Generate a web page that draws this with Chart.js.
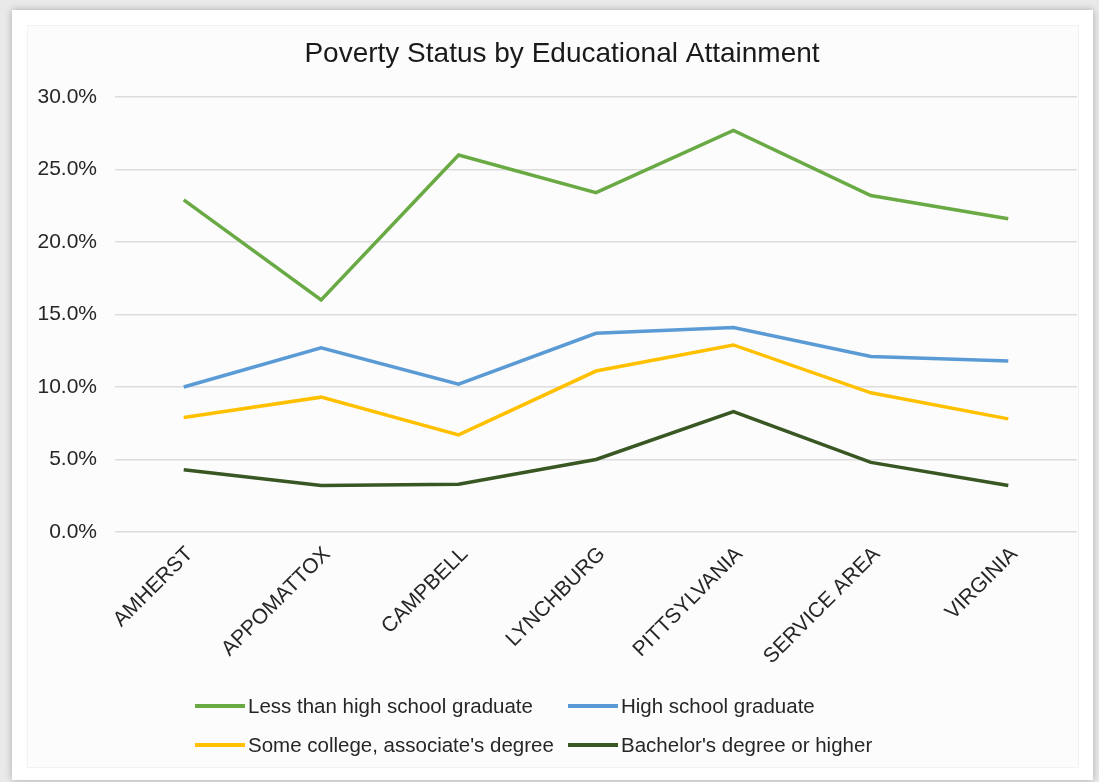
<!DOCTYPE html>
<html>
<head>
<meta charset="utf-8">
<script src="https://cdn.jsdelivr.net/npm/chart.js@4.4.1/dist/chart.umd.min.js"></script>
<style>
  html, body { margin:0; padding:0; width:1099px; height:782px; overflow:hidden; background:#e9e9e9; font-family:"Liberation Sans", Arial, sans-serif; }
  #card { position:absolute; left:12px; top:10px; width:1081px; height:770px; background:#ffffff; box-shadow:0 0 7px rgba(0,0,0,0.28); }
  #inner { position:absolute; left:27px; top:25px; width:1052px; height:743px; background:#fcfcfc; border:1px solid #f2f2f2; box-sizing:border-box; }
  #chartBox { position:absolute; left:0; top:0; width:1099px; height:782px; }
  #legend { position:absolute; left:0; top:0; width:1099px; height:782px; pointer-events:none; }
  .item { position:absolute; display:flex; align-items:center; height:24px; transform:translateY(-50%); }
  .swatch { width:50px; height:4px; margin-right:3px; }
  .label { font-size:20.5px; color:#262626; white-space:nowrap; font-family:"Liberation Sans", Arial, sans-serif; }
</style>
</head>
<body>
<div id="card"></div>
<div id="inner"></div>
<div id="chartBox"><canvas id="c" width="1099" height="782"></canvas></div>
<div id="legend"></div>
<script>
const categories = ['AMHERST', 'APPOMATTOX', 'CAMPBELL', 'LYNCHBURG', 'PITTSYLVANIA', 'SERVICE AREA', 'VIRGINIA'];
const lessThanHighSchool = [22.9, 16.0, 26.0, 23.4, 27.7, 23.2, 21.6];
const highSchoolGraduate = [10.0, 12.7, 10.2, 13.7, 14.1, 12.1, 11.8];
const someCollege = [7.9, 9.3, 6.7, 11.1, 12.9, 9.6, 7.8];
const bachelorsOrHigher = [4.3, 3.2, 3.3, 5.0, 8.3, 4.8, 3.2];
const seriesNames = ['Less than high school graduate', 'High school graduate', "Some college, associate's degree", "Bachelor's degree or higher"];
const seriesColors = ['#6aaa45', '#5b9bd5', '#ffc000', '#385723'];
const yTickValues = [0, 5, 10, 15, 20, 25, 30];

Chart.defaults.font.family = '"Liberation Sans", Arial, sans-serif';
Chart.defaults.color = '#262626';

const seriesData = [lessThanHighSchool, highSchoolGraduate, someCollege, bachelorsOrHigher];
const datasets = seriesData.map((d, i) => ({
  label: seriesNames[i],
  data: d,
  borderColor: seriesColors[i],
  backgroundColor: seriesColors[i],
  borderWidth: 3.5,
  pointRadius: 0,
  tension: 0,
  fill: false
}));

// shift the title block slightly right, as in the reference
const titleShift = {
  id: 'titleShift',
  afterLayout(chart) {
    const t = chart.titleBlock;
    if (t) { t.left += 13.5; t.right += 13.5; }
  }
};

new Chart(document.getElementById('c'), {
  type: 'line',
  data: { labels: categories, datasets },
  plugins: [titleShift],
  options: {
    responsive: false,
    animation: false,
    layout: { padding: { left: 20, right: 22, top: 0, bottom: 0 } },
    plugins: {
      legend: { display: false },
      tooltip: { enabled: false },
      title: {
        display: true,
        text: 'Poverty Status by Educational Attainment',
        color: '#1a1a1a',
        font: { size: 28, weight: 'normal', lineHeight: 1.2 },
        padding: { top: 37, bottom: 26.4 }
      }
    },
    scales: {
      x: {
        offset: true,
        grid: { display: false, drawTicks: false },
        border: { display: false },
        ticks: { font: { size: 21 }, color: '#262626', minRotation: 45, maxRotation: 45, padding: 10, labelOffset: 6, autoSkip: false },
        afterFit: (s) => { s.height = 250; }
      },
      y: {
        min: 0, max: 30,
        afterBuildTicks: (s) => { s.ticks = yTickValues.map(v => ({ value: v })); },
        grid: { color: '#dcdcdc', lineWidth: 1.5, drawTicks: false },
        border: { display: false },
        ticks: { font: { size: 21 }, color: '#262626', padding: 18, callback: (v) => v.toFixed(1) + '%' },
        afterFit: (s) => { s.width = 95; }
      }
    }
  }
});

// Excel-style two-column legend
const legendPos = [[195, 706], [568, 706], [195, 745], [568, 745]];
const lg = document.getElementById('legend');
datasets.forEach((ds, i) => {
  const it = document.createElement('div');
  it.className = 'item';
  it.style.left = legendPos[i][0] + 'px';
  it.style.top = legendPos[i][1] + 'px';
  const sw = document.createElement('div');
  sw.className = 'swatch';
  sw.style.background = ds.borderColor;
  const tx = document.createElement('span');
  tx.className = 'label';
  tx.textContent = ds.label;
  it.appendChild(sw); it.appendChild(tx);
  lg.appendChild(it);
});
</script>
</body>
</html>
